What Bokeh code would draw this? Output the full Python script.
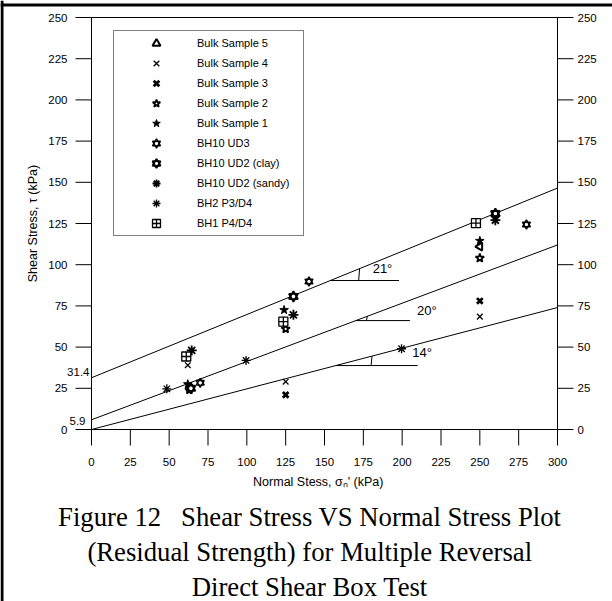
import math
from bokeh.plotting import figure
from bokeh.models import Legend, LegendItem, Range1d
from bokeh.embed import file_html
from bokeh.resources import INLINE
from bokeh.core.properties import value

# ---------------- data ----------------
x_ticks = [0, 25, 50, 75, 100, 125, 150, 175, 200, 225, 250, 275, 300]
y_ticks = [0, 25, 50, 75, 100, 125, 150, 175, 200, 225, 250]

bulk5_x = [250];               bulk5_y = [111]
bulk4_x = [62, 125, 250];      bulk4_y = [39, 29, 68.5]
bulk3_x = [63, 125, 250];      bulk3_y = [26, 21, 78]
bulk2_x = [63, 125, 250];      bulk2_y = [24, 61, 104]
bulk1_x = [62, 124, 250];      bulk1_y = [27.5, 72.5, 114.5]
ud3_x = [70, 140, 280];        ud3_y = [28.3, 89.8, 124.4]
clay_x = [64, 130, 260];       clay_y = [25, 80.7, 131]
sandy_x = [64.5, 130, 260];    sandy_y = [48, 69.6, 127]
bh2_x = [48.5, 99.5, 199.6];   bh2_y = [24.7, 41.9, 49]
bh1_x = [61, 123.5, 247.5];    bh1_y = [44.3, 65.5, 125.2]

# failure envelopes: value at x = 0 and x = 300
env_x = [0, 300]
env_y0 = [31.4, 5.9, 0.0]
env_y300 = [146.5, 112.0, 74.0]
intercept_labels = ["31.4", "5.9"]
# angle marks
ann_y = [90.4, 66.1, 38.8]
ann_x_end = [198, 205, 210]
ann_arc_x = [172, 177, 180]
ann_label_x = [181, 209.5, 206.5]
ann_label_y = [93, 67.5, 42]
ann_labels = ["21°", "20°", "14°"]

x_title = "Normal Stess, σₙ' (kPa)"
y_title = "Shear Stress, τ (kPa)"
title_lines = ["Figure 12\u00a0\u00a0\u00a0Shear Stress VS Normal Stress Plot",
               "(Residual Strength) for Multiple Reversal",
               "Direct Shear Box Test"]

FONT = "Liberation Sans"

# ---------------- page geometry (pixels) ----------------
W, H = 612, 601
FL, FR, FT, FB = 91, 557, 17, 429
kx = (FR - FL) / (x_ticks[-1] - x_ticks[0])
ky = (FB - FT) / (y_ticks[-1] - y_ticks[0])
X0 = x_ticks[0] - FL / kx
X1 = X0 + W / kx
Y1 = y_ticks[-1] + FT / ky
Y0 = Y1 - H / ky


def dx(px):
    return px / kx


def dy(px):
    return px / ky


p = figure(width=W, height=H, x_range=Range1d(X0, X1), y_range=Range1d(Y0, Y1),
           output_backend="svg", toolbar_location=None, title=None,
           x_axis_location=None, y_axis_location=None, min_border=0,
           outline_line_color=None)
p.grid.visible = False

# page edge (left and top black border)
p.line([X0 + dx(1.5)] * 2, [Y0, Y1], line_color="black", line_width=3)
p.line([X0, X1], [Y1 - dy(4.5)] * 2, line_color="black", line_width=3)

# plot box
p.quad(left=[x_ticks[0]], right=[x_ticks[-1]], bottom=[y_ticks[0]], top=[y_ticks[-1]],
       fill_color=None, line_color="black", line_width=1)

# ticks
ny, nx = len(y_ticks), len(x_ticks)
p.segment(x0=[x_ticks[0]] * ny, y0=y_ticks, x1=[x_ticks[0] - dx(16)] * ny, y1=y_ticks,
          line_color="black", line_width=1)
p.segment(x0=[x_ticks[-1]] * ny, y0=y_ticks, x1=[x_ticks[-1] + dx(16)] * ny, y1=y_ticks,
          line_color="black", line_width=1)
p.segment(x0=x_ticks, y0=[y_ticks[0]] * nx, x1=x_ticks, y1=[y_ticks[0] - dy(16)] * nx,
          line_color="black", line_width=1)

# tick labels
tick_font = dict(text_font=value(FONT), text_font_size="11.5px", text_color="black")
p.text(x=[x_ticks[0] - dx(24)] * ny, y=y_ticks, text=[str(v) for v in y_ticks],
       text_align="right", text_baseline="middle", **tick_font)
p.text(x=[x_ticks[-1] + dx(20)] * ny, y=y_ticks, text=[str(v) for v in y_ticks],
       text_align="left", text_baseline="middle", **tick_font)
p.text(x=x_ticks, y=[y_ticks[0] - dy(32)] * nx, text=[str(v) for v in x_ticks],
       text_align="center", text_baseline="middle", **tick_font)

# axis titles
p.text(x=[146], y=[y_ticks[0] - dy(52)], text=[x_title], text_align="center",
       text_baseline="middle", text_font=value(FONT), text_font_size="12.5px")
p.text(x=[x_ticks[0] - dx(59)], y=[125], text=[y_title], angle=math.pi / 2,
       text_align="center", text_baseline="middle", text_font=value(FONT),
       text_font_size="12.5px")

# intercept labels
p.text(x=[x_ticks[0] - dx(2), x_ticks[0] - dx(6)],
       y=[env_y0[0] + dy(6), env_y0[1] - dy(1.5)], text=intercept_labels,
       text_align="right", text_baseline="middle", **tick_font)

# ---------------- envelope lines ----------------
for y0, y1 in zip(env_y0, env_y300):
    p.line(env_x, [y0, y1], line_color="black", line_width=1)

for y0, y1, yh, xe, xa_ in zip(env_y0, env_y300, ann_y, ann_x_end, ann_arc_x):
    slope = (y1 - y0) / (env_x[1] - env_x[0])
    x0 = (yh - y0) / slope
    p.line([x0, xe], [yh, yh], line_color="black", line_width=1)
    p.line([xa_, xa_ + 0.6], [yh, y0 + slope * (xa_ + 0.6)], line_color="black", line_width=1)
p.text(x=ann_label_x, y=ann_label_y, text=ann_labels, text_font=value(FONT),
       text_font_size="13px", text_color="black", text_baseline="bottom")

# ---------------- data points ----------------
S = 8
r_b5 = p.scatter(bulk5_x, bulk5_y, marker="triangle", angle=math.pi / 2, size=S,
                 fill_color="white", line_color="black", line_width=2)
r_b4 = p.scatter(bulk4_x, bulk4_y, marker="x", size=S, line_color="black", line_width=1.3)
r_b3 = p.scatter(bulk3_x, bulk3_y, marker="x", size=S, line_color="black", line_width=2.8)
r_b2 = p.scatter(bulk2_x, bulk2_y, marker="star", size=S + 1, fill_color="white",
                 line_color="black", line_width=1.8)
r_b1 = p.scatter(bulk1_x, bulk1_y, marker="star", size=S + 1, fill_color="black",
                 line_color="black", line_width=1)
r_u3a = p.scatter(ud3_x, ud3_y, marker="triangle", size=S, fill_color=None,
                  line_color="black", line_width=1.4)
r_u3b = p.scatter(ud3_x, ud3_y, marker="inverted_triangle", size=S, fill_color=None,
                  line_color="black", line_width=1.4)
r_cla = p.scatter(clay_x, clay_y, marker="triangle", size=S + 1, fill_color="white",
                  line_color="black", line_width=1.8)
r_clb = p.scatter(clay_x, clay_y, marker="inverted_triangle", size=S + 1, fill_color=None,
                  line_color="black", line_width=1.8)
r_sa = p.scatter(sandy_x, sandy_y, marker="asterisk", size=S + 2, line_color="black",
                 line_width=1.8)
r_bh2 = p.scatter(bh2_x, bh2_y, marker="asterisk", size=S + 1, line_color="black",
                  line_width=1.3)
r_bh1 = p.scatter(bh1_x, bh1_y, marker="square_cross", size=S + 1, fill_color="white",
                  line_color="black", line_width=1.3)

legend = Legend(items=[
    LegendItem(label="Bulk Sample 5", renderers=[r_b5]),
    LegendItem(label="Bulk Sample 4", renderers=[r_b4]),
    LegendItem(label="Bulk Sample 3", renderers=[r_b3]),
    LegendItem(label="Bulk Sample 2", renderers=[r_b2]),
    LegendItem(label="Bulk Sample 1", renderers=[r_b1]),
    LegendItem(label="BH10 UD3", renderers=[r_u3a, r_u3b]),
    LegendItem(label="BH10 UD2 (clay)", renderers=[r_cla, r_clb]),
    LegendItem(label="BH10 UD2 (sandy)", renderers=[r_sa]),
    LegendItem(label="BH2 P3/D4", renderers=[r_bh2]),
    LegendItem(label="BH1 P4/D4", renderers=[r_bh1]),
], location=(FL + 22, H - FB + 193))
legend.border_line_color = "black"
legend.border_line_width = 1
legend.background_fill_color = "white"
legend.background_fill_alpha = 1
legend.label_text_font = FONT
legend.label_text_font_size = "11px"
legend.label_text_color = "black"
legend.padding = 2
legend.margin = 0
legend.glyph_width = 80
legend.glyph_height = 20
legend.label_height = 20
legend.label_width = 104
legend.label_standoff = 1
legend.spacing = 0
p.add_layout(legend)

# figure caption
p.text(x=[140.5] * 3, y=[y_ticks[0] - dy(87), y_ticks[0] - dy(122), y_ticks[0] - dy(157)],
       text=title_lines, text_align="center", text_baseline="middle",
       text_font=value("Liberation Serif"), text_font_size="26.7px", text_color="black")

open("out.html", "w").write(file_html(p, INLINE))
